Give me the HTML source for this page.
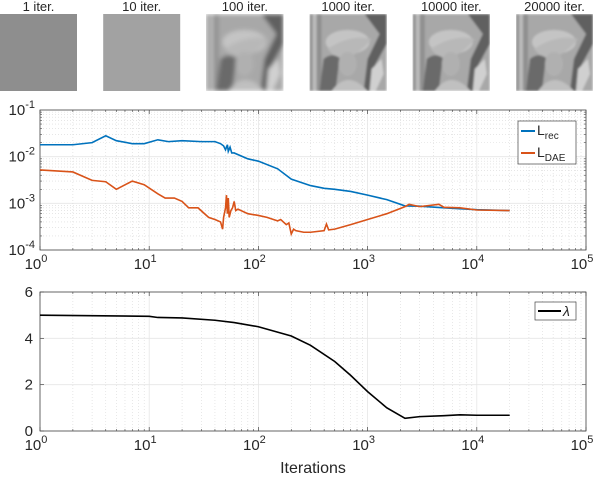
<!DOCTYPE html>
<html><head><meta charset="utf-8"><style>
body{margin:0;background:#fff;width:600px;height:478px;overflow:hidden;font-family:"Liberation Sans",sans-serif}
svg text{font-family:"Liberation Sans",sans-serif;fill:#262626}
</style></head><body>
<svg id="fig" width="600" height="478" viewBox="0 0 600 478" xmlns="http://www.w3.org/2000/svg">
<defs>
<filter id="blur" x="0" y="0" width="100%" height="100%"><feGaussianBlur stdDeviation="2"/></filter>
<filter id="blur2" x="0" y="0" width="100%" height="100%"><feGaussianBlur stdDeviation="1"/></filter>
<g id="lena">
<rect x="0" y="0" width="77" height="77" fill="#a8a8a8"/>
<rect x="0" y="0" width="12" height="77" fill="#909090"/>
<rect x="3" y="0" width="4" height="77" fill="#bcbcbc"/>
<path d="M55 0 L77 0 L77 30 L66 50 L60 77 L54 77 L58 45 L70 20 Z" fill="#606060"/>
<path d="M62 55 L72 45 L74 60 L66 77 L60 77 Z" fill="#d0d0d0"/>
<ellipse cx="38" cy="28" rx="22" ry="12" fill="#c4c4c4"/>
<path d="M18 35 Q40 20 62 25 Q50 40 30 48 Z" fill="#b8b8b8"/>
<path d="M14 45 Q22 38 30 44 L26 77 L10 77 Z" fill="#6a6a6a"/>
<ellipse cx="38" cy="50" rx="9" ry="12" fill="#b0b0b0"/>
<path d="M22 77 Q38 55 58 77 Z" fill="#c0c0c0"/>
</g>
</defs>
<g id="thumbs"></g>
<g id="topchart"></g>
<g id="botchart"></g>
</svg>
<script>
// ---- data ----
const thumbLabels = ["1 iter.","10 iter.","100 iter.","1000 iter.","10000 iter.","20000 iter."];
const recIters = [1,2,3,4,5,7,9,12,15,20,30,40,45,48,50,52,53,55,57,60,80,100,150,200,300,400,500,700,1000,1500,2200,3000,5000,10000,20000];
const recVals  = [0.018,0.018,0.02,0.028,0.022,0.019,0.019,0.023,0.021,0.022,0.021,0.021,0.019,0.017,0.014,0.018,0.013,0.016,0.012,0.012,0.009,0.008,0.0055,0.0033,0.0024,0.0021,0.002,0.0018,0.0015,0.0012,0.00088,0.00087,0.0008,0.00073,0.0007];
const daeIters = [1,2,3,4,5,7,9,12,14,17,20,23,28,35,40,45,47,48,50,51,52,53,54,56,58,60,62,65,80,100,120,150,160,180,190,200,210,220,260,300,400,420,440,500,700,1000,1500,2200,2400,3000,4500,5000,7000,10000,20000];
const daeVals  = [0.0052,0.0047,0.0031,0.0029,0.002,0.003,0.0025,0.0016,0.0013,0.0013,0.0011,0.0008,0.0008,0.0005,0.00045,0.0004,0.00028,0.0005,0.0008,0.0015,0.0006,0.0013,0.0005,0.0007,0.0008,0.0011,0.0007,0.00075,0.0006,0.00055,0.0005,0.00042,0.00045,0.00035,0.00038,0.00022,0.00028,0.00026,0.00024,0.00024,0.00026,0.00036,0.00027,0.00028,0.00035,0.00045,0.0006,0.00085,0.00095,0.00085,0.00095,0.00082,0.0008,0.00072,0.0007];
const lamIters = [1,10,12,20,40,60,100,200,300,500,700,1000,1500,2200,3000,5000,7000,10000,20000];
const lamVals  = [5.0,4.95,4.9,4.88,4.78,4.68,4.5,4.1,3.7,3.0,2.4,1.7,1.0,0.55,0.62,0.66,0.7,0.68,0.68];
const xTickExp = [0,1,2,3,4,5];
const yTopExp = [-1,-2,-3,-4];
const yBotTicks = [0,2,4,6];

const NS="http://www.w3.org/2000/svg";
function mk(tag,attrs,parent){const e=document.createElementNS(NS,tag);for(const k in attrs)e.setAttribute(k,attrs[k]);parent.appendChild(e);return e;}
function sup(t,base,exp){t.textContent='';const a=document.createElementNS(NS,'tspan');a.textContent=base;t.appendChild(a);const b=document.createElementNS(NS,'tspan');b.setAttribute('dy','-7');b.setAttribute('font-size','11');b.textContent=exp;t.appendChild(b);}
function sub(t,base,s){t.textContent='';const a=document.createElementNS(NS,'tspan');a.textContent=base;t.appendChild(a);const b=document.createElementNS(NS,'tspan');b.setAttribute('dy','4');b.setAttribute('font-size','10');b.textContent=s;t.appendChild(b);}
const AX_L=40,AX_R=586;
const xs=v=>AX_L+(Math.log10(v))/5*(AX_R-AX_L);

const th=document.getElementById('thumbs');
const thumbFills=["#8e8e8e","#a2a2a2"];
thumbLabels.forEach((lab,i)=>{
  const x=i*103.2;
  const t=mk('text',{x:x+38.5,y:11,'text-anchor':'middle','font-size':13},th);t.textContent=lab;
  
  
  let g;
  if(i<2){g=mk('rect',{x:x,y:14,width:77,height:77,fill:thumbFills[i]},th);}
  else{g=mk('use',{href:'#lena',x:x,y:14,filter:i==2?'url(#blur)':'url(#blur2)'},th);}
  
  
});

function frame(g,T,B){
  for(let d=0;d<5;d++)for(let m=2;m<10;m++){const x=xs(m*Math.pow(10,d));mk('line',{x1:x,x2:x,y1:T,y2:B,stroke:'#d8d8d8','stroke-width':0.6,'stroke-dasharray':'1,2'},g);
    mk('line',{x1:x,x2:x,y1:B,y2:B-2,stroke:'#444','stroke-width':0.6},g);mk('line',{x1:x,x2:x,y1:T,y2:T+2,stroke:'#444','stroke-width':0.6},g);}
  xTickExp.forEach(e=>{const x=xs(Math.pow(10,e));mk('line',{x1:x,x2:x,y1:T,y2:B,stroke:'#e6e6e6','stroke-width':0.8},g);
    mk('line',{x1:x,x2:x,y1:B,y2:B-4,stroke:'#444','stroke-width':0.7},g);mk('line',{x1:x,x2:x,y1:T,y2:T+4,stroke:'#444','stroke-width':0.7},g);
    const t=mk('text',{x:x-4,y:B+19,'text-anchor':'middle','font-size':15},g);sup(t,'10',String(e));
    
    });
}

const topG=document.getElementById('topchart');const T1=110,B1=250;
const ys1=v=>T1+(-1-Math.log10(v))/3*(B1-T1);
for(let d=-4;d<-1;d++)for(let m=2;m<10;m++){const y=ys1(m*Math.pow(10,d));mk('line',{x1:AX_L,x2:AX_R,y1:y,y2:y,stroke:'#d8d8d8','stroke-width':0.6,'stroke-dasharray':'1,2'},topG);
  mk('line',{x1:AX_L,x2:AX_L+2,y1:y,y2:y,stroke:'#444','stroke-width':0.6},topG);mk('line',{x1:AX_R,x2:AX_R-2,y1:y,y2:y,stroke:'#444','stroke-width':0.6},topG);}
yTopExp.forEach(e=>{const y=ys1(Math.pow(10,e));mk('line',{x1:AX_L,x2:AX_R,y1:y,y2:y,stroke:'#e6e6e6','stroke-width':0.8},topG);
  const t=mk('text',{x:35,y:y+5,'text-anchor':'end','font-size':15},topG);sup(t,'10',String(e));
  
  });
frame(topG,T1,B1);
mk('rect',{x:AX_L,y:T1,width:AX_R-AX_L,height:B1-T1,fill:'none',stroke:'#444','stroke-width':0.8},topG);
const pRec=mk('polyline',{points:recIters.map((v,i)=>xs(v)+','+ys1(recVals[i])).join(' '),fill:'none',stroke:'#0072BD','stroke-width':1.6},topG);


const pDae=mk('polyline',{points:daeIters.map((v,i)=>xs(v)+','+ys1(daeVals[i])).join(' '),fill:'none',stroke:'#D95319','stroke-width':1.6},topG);


const lg=mk('g',{},topG);


mk('rect',{x:518,y:121,width:58,height:43,fill:'#fff',stroke:'#444','stroke-width':0.7},lg);
mk('line',{x1:521,x2:535,y1:131,y2:131,stroke:'#0072BD','stroke-width':2},lg);
mk('line',{x1:521,x2:535,y1:153,y2:153,stroke:'#D95319','stroke-width':2},lg);
let tt=mk('text',{x:537,y:135,'font-size':14},lg);sub(tt,'L','rec');
tt=mk('text',{x:537,y:157,'font-size':14},lg);sub(tt,'L','DAE');

const botG=document.getElementById('botchart');const T2=292,B2=431;
const ys2=v=>B2-v/6*(B2-T2);
yBotTicks.forEach(v=>{const y=ys2(v);mk('line',{x1:AX_L,x2:AX_R,y1:y,y2:y,stroke:'#e6e6e6','stroke-width':0.8},botG);
  mk('line',{x1:AX_L,x2:AX_L+4,y1:y,y2:y,stroke:'#444','stroke-width':0.7},botG);mk('line',{x1:AX_R,x2:AX_R-4,y1:y,y2:y,stroke:'#444','stroke-width':0.7},botG);
  const t=mk('text',{x:33,y:y+5,'text-anchor':'end','font-size':15},botG);t.textContent=v;
  
  });
frame(botG,T2,B2);
mk('rect',{x:AX_L,y:T2,width:AX_R-AX_L,height:B2-T2,fill:'none',stroke:'#444','stroke-width':0.8},botG);
const pLam=mk('polyline',{points:lamIters.map((v,i)=>xs(v)+','+ys2(lamVals[i])).join(' '),fill:'none',stroke:'#000','stroke-width':1.6},botG);


const lg2=mk('g',{},botG);


mk('rect',{x:535,y:302,width:41,height:18,fill:'#fff',stroke:'#444','stroke-width':0.7},lg2);
mk('line',{x1:538,x2:561,y1:311,y2:311,stroke:'#000','stroke-width':2},lg2);
tt=mk('text',{x:563,y:316,'font-size':14,'font-style':'italic'},lg2);tt.textContent='λ';
const xl=mk('text',{x:313,y:473,'text-anchor':'middle','font-size':16},botG);xl.textContent='Iterations';


</script>
</body></html>
